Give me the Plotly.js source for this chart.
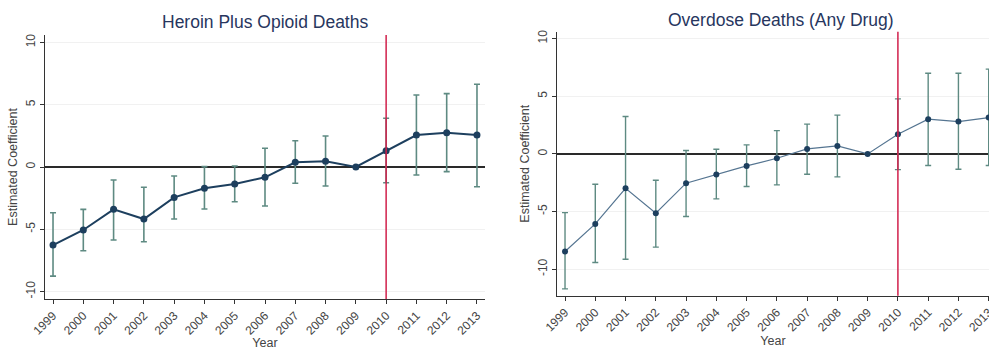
<!DOCTYPE html>
<html>
<head>
<meta charset="utf-8">
<script src="https://cdn.plot.ly/plotly-3.0.1.min.js"></script>
<style>html,body{margin:0;padding:0;background:#fff;}#chart{width:989px;height:350px;}</style>
</head>
<body>
<div id="chart"></div>
<script>
var years = [1999,2000,2001,2002,2003,2004,2005,2006,2007,2008,2009,2010,2011,2012,2013];
var yearLabels = ["1999","2000","2001","2002","2003","2004","2005","2006","2007","2008","2009","2010","2011","2012","2013"];

var heroinCoef  = [-6.27,-5.06,-3.40,-4.18,-2.44,-1.71,-1.37,-0.83,0.38,0.46,0,1.31,2.57,2.76,2.57];
var heroinUpper = [-3.67,-3.40,-1.04,-1.63,-0.72,0.03,0.08,1.50,2.11,2.49,0,3.91,5.78,5.89,6.64];
var heroinLower = [-8.76,-6.72,-5.86,-6.00,-4.18,-3.37,-2.79,-3.13,-1.31,-1.53,0,-1.26,-0.64,-0.37,-1.58];

var overdoseCoef  = [-8.47,-6.07,-2.98,-5.15,-2.54,-1.79,-1.04,-0.38,0.43,0.69,0,1.71,3.01,2.80,3.15];
var overdoseUpper = [-5.09,-2.63,3.24,-2.28,0.29,0.40,0.78,2.02,2.58,3.36,0,4.77,7.00,7.00,7.35];
var overdoseLower = [-11.71,-9.42,-9.14,-8.09,-5.43,-3.90,-2.83,-2.69,-1.76,-1.99,0,-1.36,-1.01,-1.33,-1.01];

var panelTitles = ["Heroin Plus Opioid Deaths", "Overdose Deaths (Any Drug)"];
var policyYear = 2010;
var yTickVals = [-10,-5,0,5,10];
var yTickText = ["-10","-5","0","5","10"];

var FONT = "'Liberation Sans', Arial, sans-serif";
var ciColor = "#5e8a82";

function diff(a, b) { return a.map(function (v, i) { return v - b[i]; }); }

var traces = [
  {
    x: years, y: heroinCoef, xaxis: 'x', yaxis: 'y', type: 'scatter', mode: 'lines+markers',
    line: {color: '#1d3f5e', width: 2},
    marker: {color: '#1d3f5e', size: 7},
    error_y: {type: 'data', symmetric: false, array: diff(heroinUpper, heroinCoef),
              arrayminus: diff(heroinCoef, heroinLower), color: ciColor, thickness: 1.6, width: 3},
    cliponaxis: false, showlegend: false
  },
  {
    x: years, y: overdoseCoef, xaxis: 'x2', yaxis: 'y2', type: 'scatter', mode: 'lines+markers',
    line: {color: '#557591', width: 1.2},
    marker: {color: '#1d3f5e', size: 6},
    error_y: {type: 'data', symmetric: false, array: diff(overdoseUpper, overdoseCoef),
              arrayminus: diff(overdoseCoef, overdoseLower), color: ciColor, thickness: 1.4, width: 3},
    cliponaxis: true, showlegend: false
  }
];

function xAxis(domain, range, anchor) {
  return {
    domain: domain, range: range, anchor: anchor,
    tickmode: 'array', tickvals: years, ticktext: yearLabels, tickangle: -45,
    ticks: 'outside', ticklen: 4, tickcolor: '#333', tickwidth: 1,
    ticklabeloverflow: 'allow',
    showline: true, linecolor: '#333', linewidth: 1,
    showgrid: false, zeroline: false,
    tickfont: {family: FONT, size: 12, color: '#444'},
    title: {text: 'Year', font: {family: FONT, size: 12.5, color: '#444'}, standoff: 0}
  };
}
function yAxis(domain, range, anchor) {
  return {
    domain: domain, range: range, anchor: anchor,
    tickmode: 'array', tickvals: yTickVals, ticktext: yTickText, tickangle: -90,
    ticks: 'outside', ticklen: 4, tickcolor: '#333', tickwidth: 1,
    showline: true, linecolor: '#333', linewidth: 1,
    showgrid: true, gridcolor: '#f1f1f1', gridwidth: 1,
    zeroline: true, zerolinecolor: '#2a2a2a', zerolinewidth: 1.5,
    tickfont: {family: FONT, size: 12, color: '#444'},
    title: {text: 'Estimated Coefficient', font: {family: FONT, size: 12.5, color: '#444'}, standoff: 3}
  };
}

var layout = {
  width: 989, height: 350,
  margin: {l: 0, r: 0, t: 0, b: 0},
  paper_bgcolor: '#ffffff', plot_bgcolor: '#ffffff',
  xaxis: xAxis([45/989, 485/989], [1998.735, 2013.265], 'y'),
  yaxis: yAxis([51/350, 315/350], [-10.6, 10.6], 'x'),
  xaxis2: xAxis([557/989, 1], [1998.735, 2013.01], 'y2'),
  yaxis2: yAxis([54.3/350, 318.3/350], [-12.3, 10.6], 'x2'),
  shapes: [
    {type: 'line', xref: 'x', yref: 'y domain', x0: policyYear, x1: policyYear, y0: 0, y1: 1,
     line: {color: '#d11f4b', width: 1.5}},
    {type: 'line', xref: 'x2', yref: 'y2 domain', x0: policyYear, x1: policyYear, y0: 0, y1: 1,
     line: {color: '#d11f4b', width: 1.5}}
  ],
  annotations: [
    {text: panelTitles[0], xref: 'paper', yref: 'paper', x: 265/989, y: 1 - 22/350,
     xanchor: 'center', yanchor: 'middle', showarrow: false,
     font: {family: FONT, size: 17.5, color: '#27365e'}},
    {text: panelTitles[1], xref: 'paper', yref: 'paper', x: 781/989, y: 1 - 20/350,
     xanchor: 'center', yanchor: 'middle', showarrow: false,
     font: {family: FONT, size: 17.5, color: '#27365e'}}
  ]
};

Plotly.newPlot('chart', traces, layout, {staticPlot: true, displayModeBar: false});
</script>
</body>
</html>
